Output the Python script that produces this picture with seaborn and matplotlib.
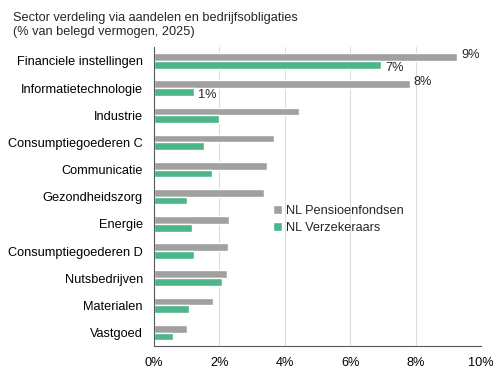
import pandas as pd
import seaborn as sns
import matplotlib.pyplot as plt
import matplotlib.ticker as ticker

sns.set_theme(style='white')
plt.rcParams['font.family'] = ['Liberation Sans', 'DejaVu Sans']

# data (% van belegd vermogen)
sectors = ['Financiele instellingen', 'Informatietechnologie', 'Industrie', 'Consumptiegoederen C',
           'Communicatie', 'Gezondheidszorg', 'Energie', 'Consumptiegoederen D',
           'Nutsbedrijven', 'Materialen', 'Vastgoed']
pensioen = [9.28, 7.82, 4.42, 3.66, 3.46, 3.36, 2.28, 2.25, 2.23, 1.80, 1.02]
verzekeraars = [6.95, 1.22, 2.00, 1.53, 1.76, 1.02, 1.16, 1.22, 2.08, 1.08, 0.59]
series = ['NL Pensioenfondsen', 'NL Verzekeraars']
colors = ['#A0A0A0', '#4DB58A']

df = pd.DataFrame({'sector': sectors * 2,
                   'waarde': pensioen + verzekeraars,
                   'groep': [series[0]] * len(sectors) + [series[1]] * len(sectors)})

fig, ax = plt.subplots(figsize=(5, 3.82), dpi=100)
fig.subplots_adjust(left=0.308, right=0.962, top=0.876, bottom=0.094)

sns.barplot(data=df, y='sector', x='waarde', hue='groep', order=sectors, hue_order=series,
            palette=colors, orient='h', width=0.57, gap=0, saturation=1, ax=ax)

ax.set_xlim(0, 10)
ax.xaxis.set_major_locator(ticker.MultipleLocator(2))
ax.xaxis.set_major_formatter(ticker.PercentFormatter(decimals=0))
ax.grid(axis='x', color='#DCDCDC', linewidth=0.8)
ax.set_axisbelow(True)
ax.set_xlabel('')
ax.set_ylabel('')
for s in ['top', 'right']:
    ax.spines[s].set_visible(False)
for s in ['left', 'bottom']:
    ax.spines[s].set_color('#595959')
    ax.spines[s].set_linewidth(0.8)
ax.tick_params(axis='both', length=0, labelsize=9.2, colors='black')
ax.tick_params(axis='x', pad=8)
ax.tick_params(axis='y', pad=8)

# labels voor de eerste twee sectoren
for i in range(2):
    ax.annotate(f'{pensioen[i]:.0f}%', (pensioen[i], i - 0.15), xytext=(3, 1.5),
                textcoords='offset points', va='center', ha='left', fontsize=9.2)
    ax.annotate(f'{verzekeraars[i]:.0f}%', (verzekeraars[i], i + 0.15), xytext=(3, -2),
                textcoords='offset points', va='center', ha='left', fontsize=9.2)

ax.legend(loc='upper left', bbox_to_anchor=(0.33, 0.51), frameon=False, fontsize=9.2,
          handlelength=0.7, handleheight=0.7, handletextpad=0.3, labelspacing=0.35)

fig.text(0.026, 0.968, 'Sector verdeling via aandelen en bedrijfsobligaties\n(% van belegd vermogen, 2025)',
         ha='left', va='top', fontsize=9.2, linespacing=1.25)

plt.savefig('out.png', dpi=100)
